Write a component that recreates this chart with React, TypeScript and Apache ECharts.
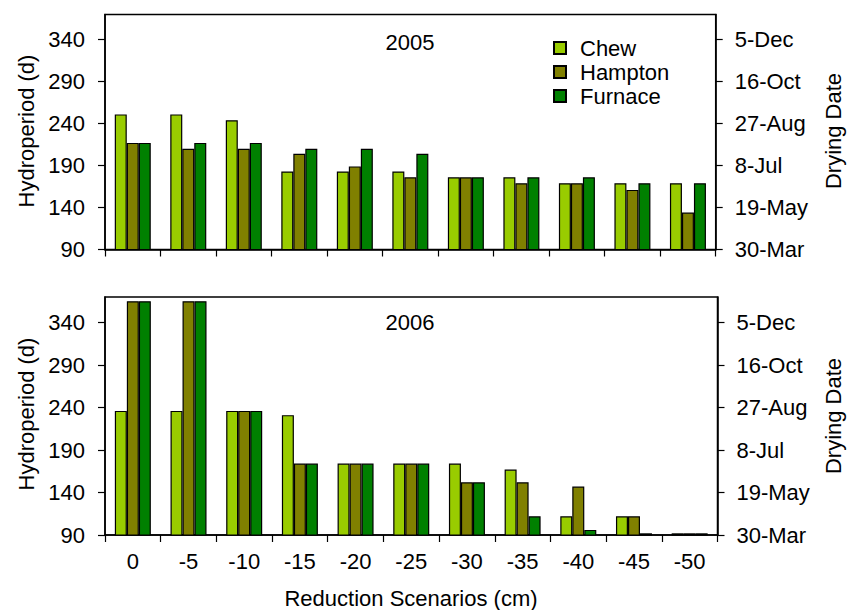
import React, { useEffect, useRef } from "react";
import * as echarts from "echarts";

// Reduction scenarios (cm) on the shared category axis
const scenarios = ["0", "-5", "-10", "-15", "-20", "-25", "-30", "-35", "-40", "-45", "-50"];

// Hydroperiod (days) per wetland, 2005
const chew2005 = [251, 251, 244, 183, 183, 183, 176, 176, 169, 169, 169];
const hampton2005 = [217, 210, 210, 204, 189, 176, 176, 169, 169, 161, 134];
const furnace2005 = [217, 217, 217, 210, 210, 204, 176, 176, 176, 169, 169];

// Hydroperiod (days) per wetland, 2006
const chew2006 = [236, 236, 236, 231, 174, 174, 174, 167, 112, 112, 92];
const hampton2006 = [365, 365, 236, 174, 174, 174, 152, 152, 147, 112, 92];
const furnace2006 = [365, 365, 236, 174, 174, 174, 152, 112, 96, 92, 92];

// Left axis ticks (days) and the matching drying dates on the right axis
const hydroTicks = [90, 140, 190, 240, 290, 340];
const dateTicks = ["30-Mar", "19-May", "8-Jul", "27-Aug", "16-Oct", "5-Dec"];

const siteNames = ["Chew", "Hampton", "Furnace"];
const siteColors = ["#99CC00", "#808000", "#008000"];

const FONT = "Liberation Sans, Arial, Helvetica, sans-serif";
const FS = 22;
const LINE_W = 1.5;

export default function App() {
  const ref = useRef<HTMLDivElement>(null);

  useEffect(() => {
    if (!ref.current) return;
    const chart = echarts.init(ref.current, undefined, { renderer: "svg" });

    const textStyle = { fontFamily: FONT, fontSize: FS, color: "#000" };

    const xAxisFor = (gridIndex: number, showLabels: boolean) => ({
      type: "category",
      gridIndex,
      data: scenarios,
      axisLine: { lineStyle: { color: "#000", width: LINE_W } },
      axisTick: { show: true, length: 7, lineStyle: { color: "#000", width: 1.2 } },
      axisLabel: { show: showLabels, margin: 15, ...textStyle },
    });

    const leftAxisFor = (gridIndex: number) => ({
      type: "value",
      gridIndex,
      position: "left",
      min: 90,
      max: 370,
      splitLine: { show: false },
      axisLine: { show: true, lineStyle: { color: "#000", width: LINE_W } },
      axisTick: { show: true, length: 7, customValues: hydroTicks, lineStyle: { color: "#000", width: 1.2 } },
      axisLabel: { margin: 20, customValues: hydroTicks, ...textStyle },
    });

    const rightAxisFor = (gridIndex: number) => ({
      type: "value",
      gridIndex,
      position: "right",
      min: 90,
      max: 370,
      splitLine: { show: false },
      axisLine: { show: true, lineStyle: { color: "#000", width: LINE_W } },
      axisTick: { show: true, length: 7, customValues: hydroTicks, lineStyle: { color: "#000", width: 1.2 } },
      axisLabel: {
        margin: 19,
        customValues: hydroTicks,
        formatter: (v: number) => {
          const i = hydroTicks.indexOf(Math.round(v));
          return i >= 0 ? dateTicks[i] : "";
        },
        ...textStyle,
      },
    });

    const barSeries = (name: string, data: number[], idx: number, axisIdx: number) => ({
      type: "bar",
      name,
      data,
      xAxisIndex: axisIdx,
      yAxisIndex: axisIdx * 2,
      barWidth: 12,
      barGap: "0%",
      itemStyle: { color: siteColors[idx], borderColor: "#000", borderWidth: 1.2 },
    });

    const label = (text: string, x: number, y: number, rotation = 0) => ({
      type: "text",
      x,
      y,
      rotation,
      style: { text, align: "center", verticalAlign: "middle", fontFamily: FONT, fontSize: FS, fill: "#000" },
    });

    const option = {
      animation: false,
      backgroundColor: "#fff",
      grid: [
        { left: 105, top: 14.5, width: 610.7, height: 235, show: true, borderColor: "#000", borderWidth: LINE_W },
        { left: 105, top: 297, width: 612.5, height: 238, show: true, borderColor: "#000", borderWidth: LINE_W },
      ],
      legend: {
        orient: "vertical",
        left: 548,
        top: 32,
        itemWidth: 12,
        itemHeight: 12,
        itemGap: 2,
        icon: "rect",
        data: siteNames,
        textStyle: { ...textStyle, padding: [0, 0, 0, 9] },
      },
      xAxis: [xAxisFor(0, false), xAxisFor(1, true)],
      yAxis: [leftAxisFor(0), rightAxisFor(0), leftAxisFor(1), rightAxisFor(1)],
      series: [
        barSeries("Chew", chew2005, 0, 0),
        barSeries("Hampton", hampton2005, 1, 0),
        barSeries("Furnace", furnace2005, 2, 0),
        barSeries("Chew", chew2006, 0, 1),
        barSeries("Hampton", hampton2006, 1, 1),
        barSeries("Furnace", furnace2006, 2, 1),
      ],
      graphic: [
        label("2005", 410, 42),
        label("2006", 410, 322.5),
        label("Hydroperiod (d)", 26, 131, Math.PI / 2),
        label("Hydroperiod (d)", 26, 414, Math.PI / 2),
        label("Drying Date", 833, 131, Math.PI / 2),
        label("Drying Date", 833, 416, Math.PI / 2),
        label("Reduction Scenarios (cm)", 411, 598),
      ],
    };

    chart.setOption(option as any);
    return () => chart.dispose();
  }, []);

  return (
    <div
      ref={ref}
      style={{ position: "absolute", left: 0, top: 0, width: 847, height: 610, background: "#fff" }}
    />
  );
}
